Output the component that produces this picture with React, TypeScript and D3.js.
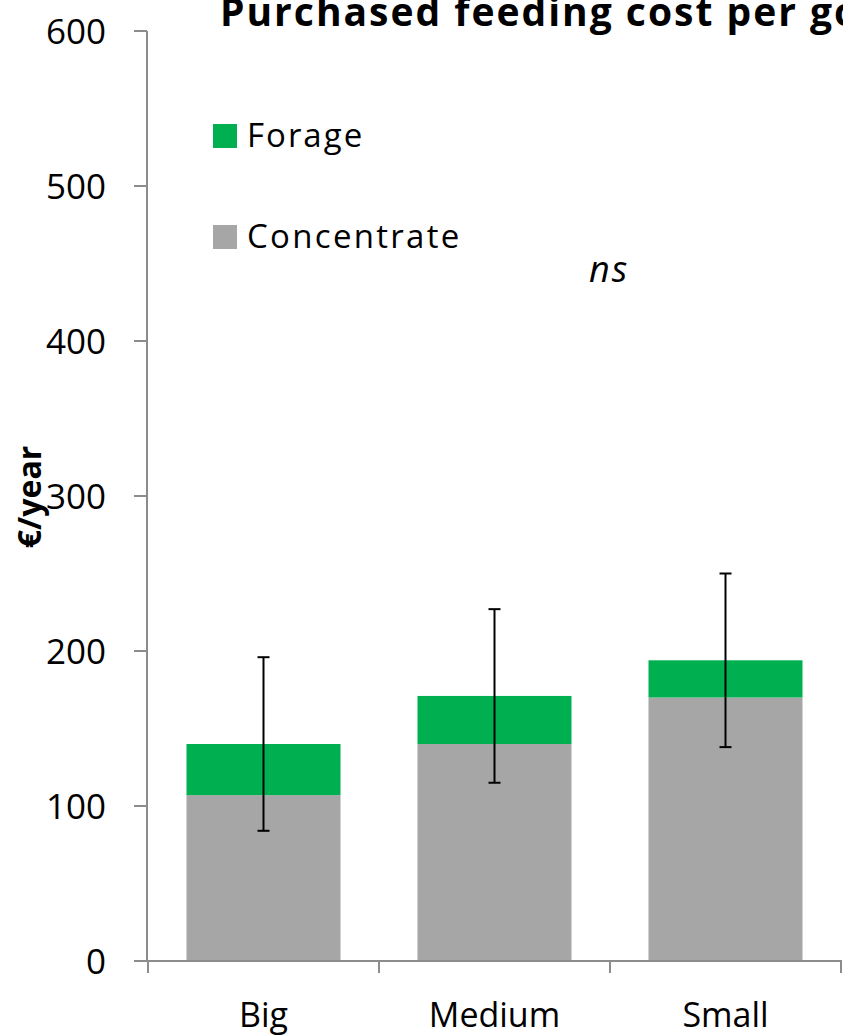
import React from "react";
import * as d3 from "d3";

const categories = ["Big", "Medium", "Small"];
const concentrate = [107, 140, 170];
const forage = [33, 31, 24];
const errorMinus = [56, 56, 56];
const errorPlus = [56, 56, 56];
const yTicks = [0, 100, 200, 300, 400, 500, 600];

const W = 843;
const H = 1036;
const FONT = "'Open Sans', Lato, sans-serif";

export default function App() {
  const x = d3
    .scaleBand<string>()
    .domain(categories)
    .range([148, 841])
    .paddingInner(1 / 3)
    .paddingOuter(1 / 6);
  const y = d3.scaleLinear().domain([0, 600]).range([961, 31]);
  const bw = x.bandwidth();
  const axisColor = "#8c8c8c";

  return (
    <svg
      width={W}
      height={H}
      style={{ position: "absolute", left: 0, top: 0, background: "#fff" }}
      fontFamily={FONT}
    >
      {/* bars */}
      {categories.map((c, i) => {
        const x0 = x(c)!;
        const total = concentrate[i] + forage[i];
        return (
          <g key={c}>
            <rect x={x0} y={y(concentrate[i])} width={bw} height={y(0) - y(concentrate[i])} fill="#A6A6A6" />
            <rect x={x0} y={y(total)} width={bw} height={y(concentrate[i]) - y(total)} fill="#00B050" />
          </g>
        );
      })}
      {/* error bars */}
      {categories.map((c, i) => {
        const cx = x(c)! + bw / 2;
        const total = concentrate[i] + forage[i];
        const hi = y(total + errorPlus[i]);
        const lo = y(total - errorMinus[i]);
        return (
          <g key={"e" + c} stroke="#000" strokeWidth={2}>
            <line x1={cx} x2={cx} y1={hi} y2={lo} />
            <line x1={cx - 6} x2={cx + 6} y1={hi} y2={hi} />
            <line x1={cx - 6} x2={cx + 6} y1={lo} y2={lo} />
          </g>
        );
      })}
      {/* y axis */}
      <line x1={147} x2={147} y1={y(600)} y2={y(0)} stroke={axisColor} strokeWidth={2} />
      {yTicks.map((t) => (
        <g key={t}>
          <line x1={134} x2={147} y1={y(t)} y2={y(t)} stroke={axisColor} strokeWidth={2} />
          <text x={106} y={y(t) + 1} dy="0.35em" textAnchor="end" fontSize={35} fill="#000">
            {t}
          </text>
        </g>
      ))}
      {/* x axis */}
      <line x1={147} x2={842} y1={y(0)} y2={y(0)} stroke={axisColor} strokeWidth={2} />
      {[...categories.map((c) => x(c)! - (x.step() - bw) / 2), 841].map((px, i) => (
        <line key={i} x1={px} x2={px} y1={y(0)} y2={y(0) + 12} stroke={axisColor} strokeWidth={2} />
      ))}
      {categories.map((c) => (
        <text key={"l" + c} x={x(c)! + bw / 2} y={1027} textAnchor="middle" fontSize={34} fill="#000">
          {c}
        </text>
      ))}
      {/* y label */}
      <text
        transform={`translate(41,497) rotate(-90)`}
        textAnchor="middle"
        fontSize={32}
        fontWeight="bold"
        fill="#000"
      >
        €/year
      </text>
      {/* title */}
      <text x={220} y={26} fontSize={39} fontWeight="bold" letterSpacing={2} fill="#000">
        Purchased feeding cost per goat
      </text>
      {/* legend */}
      <rect x={213} y={124} width={24} height={24} fill="#00B050" />
      <text x={247} y={147} fontSize={33} letterSpacing={2} fill="#000">Forage</text>
      <rect x={213} y={225} width={24} height={24} fill="#A6A6A6" />
      <text x={247} y={248} fontSize={33} letterSpacing={2.3} fill="#000">Concentrate</text>
      {/* ns */}
      <text x={589} y={282} fontSize={36} fontStyle="italic" letterSpacing={2} fill="#000">ns</text>
    </svg>
  );
}
